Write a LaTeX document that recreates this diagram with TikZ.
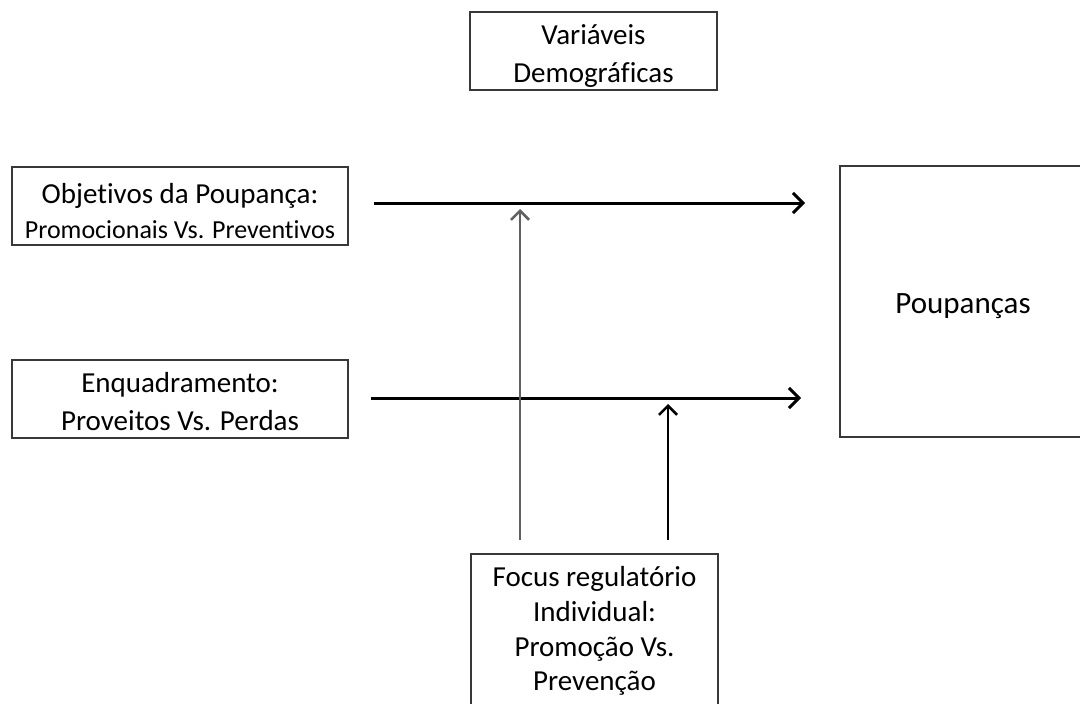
\documentclass[tikz,border=0pt]{standalone}
\usepackage{fontspec}
\setmainfont[Ligatures={NoCommon}]{Carlito}
\usetikzlibrary{arrows.meta,calc}
\tikzset{
  box/.style={draw=black!78, line width=2pt, rectangle, inner sep=0pt},
  txt/.style={align=center, inner sep=0pt},
  harr/.style={line width=3pt, -{Straight Barb[length=10pt,width=20pt,line width=3pt]}},
  varr/.style={line width=2.6pt, -{Straight Barb[length=9pt,width=18pt,line width=2.6pt]}},
}
\begin{document}
\begin{tikzpicture}[x=1pt,y=-1pt]
\useasboundingbox (0,0) rectangle (1080,704);
\node[box, minimum width=247pt, minimum height=78pt] (dem) at (593.5,51) {};
\node[txt, font=\fontsize{29}{38}\selectfont] (demtxt) at (593.5,56) {Variáveis\\Demográficas};
\node[box, minimum width=336pt, minimum height=78pt] (obj) at (180,206) {};
\node[txt, font=\fontsize{29}{35}\selectfont] (objtxt) at (180,211)
  {Objetivos da Poupança:\\{\fontsize{26}{35}\selectfont Promocionais Vs. Preventivos}};
\node[box, minimum width=336pt, minimum height=78pt] (enq) at (180,399) {};
\node[txt, font=\fontsize{29}{38}\selectfont] (enqtxt) at (180,401.5)
  {Enquadramento:\\Proveitos Vs. Perdas};
\node[box, minimum width=246pt, minimum height=271pt] (poup) at (963,301.5) {};
\node[txt, font=\fontsize{31}{36}\selectfont] (pouptxt) at (963,306) {Poupanças};
\node[box, minimum width=247pt, minimum height=170pt, anchor=north] (focus) at (594.5,553) {};
\node[txt, font=\fontsize{29}{34.8}\selectfont] (focustxt) at (594.5,631)
  {Focus regulatório\\Individual:\\Promoção Vs.\\Prevenção};
% horizontal connectors
\coordinate (h1s) at ($(obj.east)+(25,-3)$);
\coordinate (h1e) at ($(poup.west|-h1s)+(-34,0)$);
\coordinate (h2s) at ($(enq.east)+(22,-1)$);
\coordinate (h2e) at ($(poup.west|-h2s)+(-38,0)$);
\draw[harr] (h1s) -- (h1e);
\draw[harr] (h2s) -- (h2e);
% vertical connectors
\coordinate (v1s) at ($(focus.north)+(-74.5,-13)$);
\coordinate (v1e) at ($(v1s|-h1s)+(0,6)$);
\coordinate (v2s) at ($(focus.north)+(73.5,-13)$);
\coordinate (v2e) at ($(v2s|-h2s)+(0,6)$);
\draw[varr, draw=black!62] (v1s) -- (v1e);
\draw[varr] (v2s) -- (v2e);
\end{tikzpicture}
\end{document}
